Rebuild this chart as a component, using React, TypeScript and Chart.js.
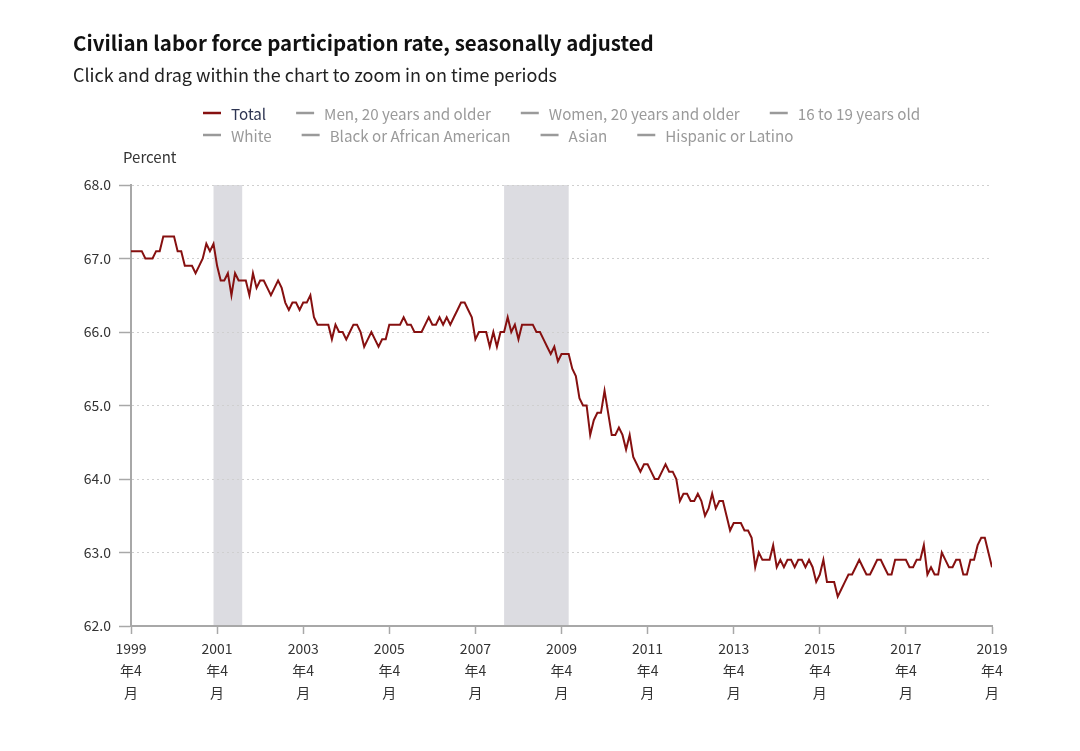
import React, { useEffect, useRef } from 'react';
import { Chart, registerables } from 'chart.js';

Chart.register(...registerables);

const TITLE = 'Civilian labor force participation rate, seasonally adjusted';
const SUBTITLE = 'Click and drag within the chart to zoom in on time periods';
const Y_AXIS_TITLE = 'Percent';
const SERIES_LABEL = 'Total';
const LEGEND_ROW_1 = ['Total', 'Men, 20 years and older', 'Women, 20 years and older', '16 to 19 years old'];
const LEGEND_ROW_2 = ['White', 'Black or African American', 'Asian', 'Hispanic or Latino'];

// first observation: April 1999 (month index 0)
const START_YEAR = 1999;
const START_MONTH = 4;
const X_TICK_YEARS = [1999, 2001, 2003, 2005, 2007, 2009, 2011, 2013, 2015, 2017, 2019];
const X_TICK_SUFFIX = ['年4', '月'];
const Y_TICKS = [62, 63, 64, 65, 66, 67, 68];

const RECESSION_STARTS = ['2001-03', '2007-12'];
const RECESSION_ENDS = ['2001-11', '2009-06'];

// Monthly values, Apr 1999 .. Apr 2019
const TOTAL = [
  /* 1999 */ 67.1, 67.1, 67.1, 67.1, 67.0, 67.0, 67.0, 67.1, 67.1,
  /* 2000 */ 67.3, 67.3, 67.3, 67.3, 67.1, 67.1, 66.9, 66.9, 66.9, 66.8, 66.9, 67.0,
  /* 2001 */ 67.2, 67.1, 67.2, 66.9, 66.7, 66.7, 66.8, 66.5, 66.8, 66.7, 66.7, 66.7,
  /* 2002 */ 66.5, 66.8, 66.6, 66.7, 66.7, 66.6, 66.5, 66.6, 66.7, 66.6, 66.4, 66.3,
  /* 2003 */ 66.4, 66.4, 66.3, 66.4, 66.4, 66.5, 66.2, 66.1, 66.1, 66.1, 66.1, 65.9,
  /* 2004 */ 66.1, 66.0, 66.0, 65.9, 66.0, 66.1, 66.1, 66.0, 65.8, 65.9, 66.0, 65.9,
  /* 2005 */ 65.8, 65.9, 65.9, 66.1, 66.1, 66.1, 66.1, 66.2, 66.1, 66.1, 66.0, 66.0,
  /* 2006 */ 66.0, 66.1, 66.2, 66.1, 66.1, 66.2, 66.1, 66.2, 66.1, 66.2, 66.3, 66.4,
  /* 2007 */ 66.4, 66.3, 66.2, 65.9, 66.0, 66.0, 66.0, 65.8, 66.0, 65.8, 66.0, 66.0,
  /* 2008 */ 66.2, 66.0, 66.1, 65.9, 66.1, 66.1, 66.1, 66.1, 66.0, 66.0, 65.9, 65.8,
  /* 2009 */ 65.7, 65.8, 65.6, 65.7, 65.7, 65.7, 65.5, 65.4, 65.1, 65.0, 65.0, 64.6,
  /* 2010 */ 64.8, 64.9, 64.9, 65.2, 64.9, 64.6, 64.6, 64.7, 64.6, 64.4, 64.6, 64.3,
  /* 2011 */ 64.2, 64.1, 64.2, 64.2, 64.1, 64.0, 64.0, 64.1, 64.2, 64.1, 64.1, 64.0,
  /* 2012 */ 63.7, 63.8, 63.8, 63.7, 63.7, 63.8, 63.7, 63.5, 63.6, 63.8, 63.6, 63.7,
  /* 2013 */ 63.7, 63.5, 63.3, 63.4, 63.4, 63.4, 63.3, 63.3, 63.2, 62.8, 63.0, 62.9,
  /* 2014 */ 62.9, 62.9, 63.1, 62.8, 62.9, 62.8, 62.9, 62.9, 62.8, 62.9, 62.9, 62.8,
  /* 2015 */ 62.9, 62.8, 62.6, 62.7, 62.9, 62.6, 62.6, 62.6, 62.4, 62.5, 62.6, 62.7,
  /* 2016 */ 62.7, 62.8, 62.9, 62.8, 62.7, 62.7, 62.8, 62.9, 62.9, 62.8, 62.7, 62.7,
  /* 2017 */ 62.9, 62.9, 62.9, 62.9, 62.8, 62.8, 62.9, 62.9, 63.1, 62.7, 62.8, 62.7,
  /* 2018 */ 62.7, 63.0, 62.9, 62.8, 62.8, 62.9, 62.9, 62.7, 62.7, 62.9, 62.9, 63.1,
  /* 2019 */ 63.2, 63.2, 63.0, 62.8,
];

const FONT = '"Noto Sans CJK SC", "Noto Sans", sans-serif';
const LINE_COLOR = '#861010';
const AXIS_COLOR = '#a8a8a8';
const GRID_COLOR = '#cfcfcf';
const TEXT_COLOR = '#333333';
const SHADE_COLOR = '#dcdce1';

const monthIndex = (ym: string) => {
  const [y, m] = ym.split('-').map(Number);
  return (y - START_YEAR) * 12 + (m - START_MONTH);
};

const shadingPlugin = {
  id: 'recessionShading',
  beforeDraw(chart: any) {
    const { ctx, chartArea, scales } = chart;
    const x = scales.x;
    ctx.save();
    ctx.fillStyle = SHADE_COLOR;
    RECESSION_STARTS.forEach((s, i) => {
      const x0 = x.getPixelForValue(monthIndex(s));
      const x1 = x.getPixelForValue(monthIndex(RECESSION_ENDS[i]));
      ctx.fillRect(x0, chartArea.top, x1 - x0, chartArea.bottom - chartArea.top);
    });
    ctx.restore();
  },
};

const textPlugin = {
  id: 'headerText',
  afterDraw(chart: any) {
    const { ctx } = chart;
    ctx.save();
    ctx.textBaseline = 'alphabetic';
    ctx.textAlign = 'left';
    ctx.fillStyle = '#111111';
    ctx.font = `bold 20.5px ${FONT}`;
    ctx.fillText(TITLE, 73, 51);
    ctx.fillStyle = '#222222';
    ctx.font = `18px ${FONT}`;
    ctx.fillText(SUBTITLE, 73, 82);

    ctx.font = `15.2px ${FONT}`;
    const rows = [LEGEND_ROW_1, LEGEND_ROW_2];
    const rowY = [113, 135];
    rows.forEach((row, r) => {
      let x = 203;
      row.forEach((label) => {
        const isMain = label === SERIES_LABEL;
        ctx.strokeStyle = isMain ? LINE_COLOR : '#9a9a9a';
        ctx.lineWidth = 2.5;
        ctx.beginPath();
        ctx.moveTo(x, rowY[r]);
        ctx.lineTo(x + 18, rowY[r]);
        ctx.stroke();
        ctx.fillStyle = isMain ? '#2e3552' : '#9a9a9a';
        ctx.textBaseline = 'middle';
        ctx.fillText(label, x + 28, rowY[r] + 1);
        x += 28 + ctx.measureText(label).width + 30;
      });
    });

    ctx.fillStyle = TEXT_COLOR;
    ctx.textBaseline = 'alphabetic';
    ctx.font = `15px ${FONT}`;
    ctx.fillText(Y_AXIS_TITLE, 123, 163);
    ctx.restore();
  },
};

export default function App() {
  const canvasRef = useRef<HTMLCanvasElement | null>(null);

  useEffect(() => {
    if (!canvasRef.current) return;
    const chart = new Chart(canvasRef.current, {
      type: 'line',
      data: {
        datasets: [
          {
            label: SERIES_LABEL,
            data: TOTAL.map((v, i) => ({ x: i, y: v })),
            borderColor: LINE_COLOR,
            backgroundColor: LINE_COLOR,
            borderWidth: 2,
            pointRadius: 0,
            tension: 0,
            fill: false,
          },
        ],
      },
      options: {
        animation: false,
        responsive: false,
        devicePixelRatio: 1,
        layout: { padding: { top: 185, right: 88, left: 0, bottom: 0 } },
        plugins: {
          legend: { display: false },
          tooltip: { enabled: false },
          title: { display: false },
        },
        scales: {
          x: {
            type: 'linear',
            min: 0,
            max: TOTAL.length - 1,
            afterFit: (scale: any) => {
              scale.height = 125;
            },
            afterBuildTicks: (scale: any) => {
              scale.ticks = X_TICK_YEARS.map((y) => ({ value: (y - START_YEAR) * 12 }));
            },
            ticks: {
              autoSkip: false,
              maxRotation: 0,
              minRotation: 0,
              padding: 4,
              color: TEXT_COLOR,
              font: { family: FONT, size: 14, lineHeight: 1.55 },
              callback: (value: any) => {
                const year = START_YEAR + Math.round(Number(value) / 12);
                return [String(year), ...X_TICK_SUFFIX];
              },
            },
            grid: {
              display: true,
              drawOnChartArea: false,
              drawTicks: true,
              tickLength: 8,
              tickColor: AXIS_COLOR,
              tickWidth: 1.5,
            },
            border: { display: true, color: AXIS_COLOR, width: 2 },
          },
          y: {
            type: 'linear',
            min: Y_TICKS[0],
            max: Y_TICKS[Y_TICKS.length - 1],
            afterFit: (scale: any) => {
              scale.width = 131;
            },
            afterBuildTicks: (scale: any) => {
              scale.ticks = Y_TICKS.map((v) => ({ value: v }));
            },
            ticks: {
              padding: 8,
              color: TEXT_COLOR,
              font: { family: FONT, size: 14 },
              callback: (value: any) => Number(value).toFixed(1),
            },
            grid: {
              color: GRID_COLOR,
              lineWidth: 1,
              drawTicks: true,
              tickLength: 12,
              tickColor: AXIS_COLOR,
              tickWidth: 1.5,
              tickBorderDash: [],
            },
            border: { display: true, color: AXIS_COLOR, width: 2, dash: [2, 3] },
          },
        },
      },
      plugins: [shadingPlugin, textPlugin],
    } as any);
    return () => chart.destroy();
  }, []);

  return (
    <div style={{ position: 'absolute', left: 0, top: 0, width: 1080, height: 751, background: '#ffffff' }}>
      <canvas ref={canvasRef} width={1080} height={751} style={{ display: 'block' }} />
    </div>
  );
}
